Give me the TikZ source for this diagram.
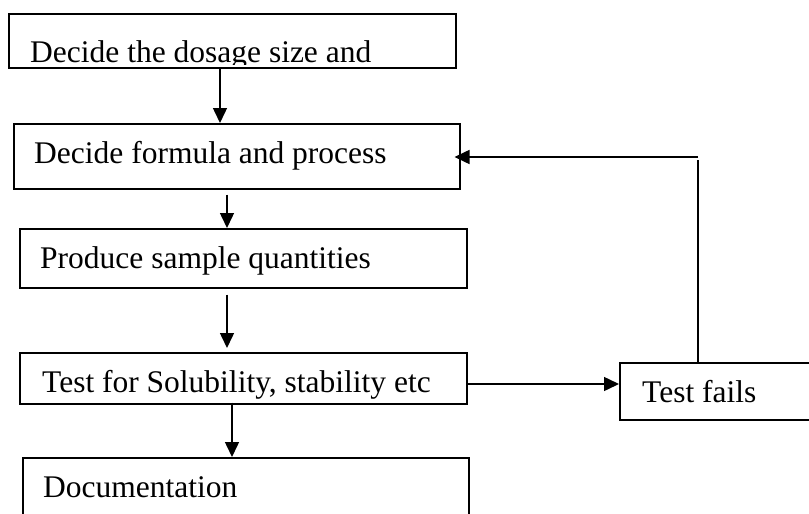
\documentclass[tikz,border=0pt]{standalone}
\usepackage{fontspec}
\setmainfont{Liberation Serif}
\usetikzlibrary{arrows.meta,calc}
\begin{document}
\begin{tikzpicture}[x=1pt,y=-1pt,
  box/.style={draw,line width=1.5pt,rectangle,anchor=north west,inner sep=0pt},
  lbl/.style={anchor=base west,inner sep=0pt,font=\fontsize{31.5}{36}\selectfont},
  arr/.style={line width=1.5pt,-{Triangle[length=15pt,width=14pt]}},
  wire/.style={line width=1.5pt}]
\useasboundingbox (0,0) rectangle (809,514);
\clip (0,0) rectangle (809,514);

% boxes of the process chain
\node[box,minimum width=447pt,minimum height=54pt] (b1) at (8,13) {};
\node[box,minimum width=446pt,minimum height=65pt] (b2) at (13,123) {};
\node[box,minimum width=447pt,minimum height=59pt] (b3) at (19,228) {};
\node[box,minimum width=447pt,minimum height=51pt] (b4) at (19,352) {};
\node[box,minimum width=446pt,minimum height=80pt] (b5) at (22,457) {};
\node[box,minimum width=220pt,minimum height=57pt] (b6) at (619,362) {};

% labels, cut off at the inner edge of their boxes
\begin{scope}
  \clip (b1.north west) rectangle ($(b1.south east)+(0,-4)$);
  \node[lbl] (t1) at (30,62) {Decide the dosage size and};
\end{scope}
\node[lbl] (t2) at (34,163) {Decide formula and process};
\node[lbl] (t3) at (40,268) {Produce sample quantities};
\begin{scope}
  \clip (b4.north west) rectangle ($(b4.south east)+(0,-5)$);
  \node[lbl] (t4) at (42,392) {Test for Solubility, stability etc};
\end{scope}
\node[lbl] (t5) at (43,497) {Documentation};
\node[lbl] (t6) at (642,402) {Test fails};

% columns of the downward arrows and the return path
\coordinate (c1) at (220,0);
\coordinate (c2) at (227,0);
\coordinate (c3) at (232,0);
\coordinate (c4) at (698,0);
\coordinate (r) at (0,157);
\coordinate (s) at (0,384);

\draw[arr] (c1 |- b1.south) -- (c1 |- b2.north);
\draw[arr] ($(c2 |- b2.south)+(0,5)$) -- (c2 |- b3.north);
\draw[arr] ($(c2 |- b3.south)+(0,6)$) -- ($(c2 |- b4.north)+(0,-4)$);
\draw[arr] ($(c3 |- b4.south)+(0,-2)$) -- (c3 |- b5.north);
\draw[arr] (b4.east |- s) -- (b6.west |- s);
\draw[wire] (c4 |- b6.north) -- ($(c4 |- r)+(0,3)$);
\draw[arr] (c4 |- r) -- ($(b2.east |- r)+(-6,0)$);
\end{tikzpicture}
\end{document}
